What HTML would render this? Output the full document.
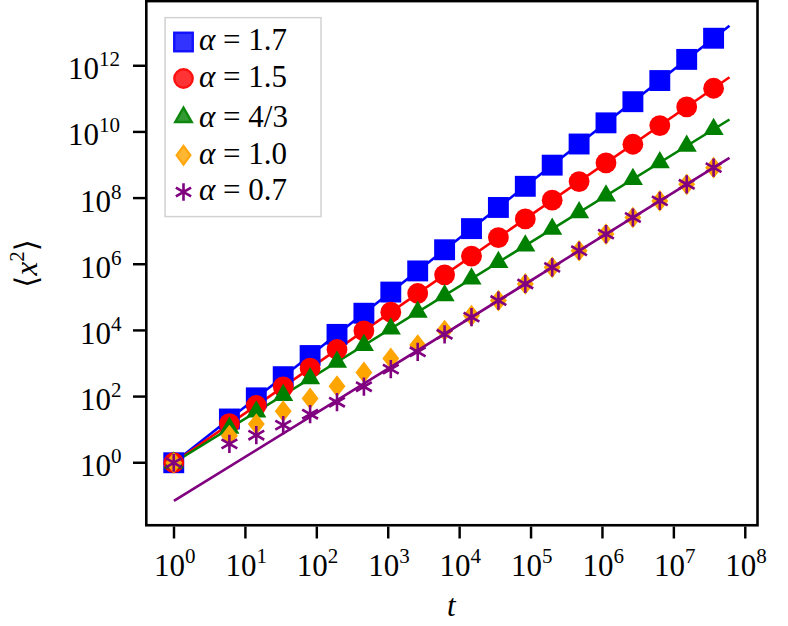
<!DOCTYPE html>
<html lang="en"><head><meta charset="utf-8"><title>chart</title>
<style>html,body{margin:0;padding:0;background:#fff;}body{width:788px;height:626px;overflow:hidden;font-family:"Liberation Serif",serif;}svg{display:block;}</style>
</head><body>
<svg width="788" height="626" viewBox="0 0 788 626" role="img" aria-label="Log-log plot of mean squared displacement versus time t for several values of alpha">
<title>Mean squared displacement vs t (log-log)</title>
<desc>Series: alpha = 1.7 (blue squares), alpha = 1.5 (red circles), alpha = 4/3 (green triangles), alpha = 1.0 (orange diamonds), alpha = 0.7 (purple asterisks), with power-law guide lines.</desc>
<rect width="788" height="626" fill="#fff"/>
<line x1="173.75" y1="462.75" x2="729.50" y2="25.74" stroke="#0000ff" stroke-width="2.6" stroke-linecap="butt"/>
<line x1="173.75" y1="462.75" x2="729.50" y2="77.22" stroke="#ff0000" stroke-width="2.6" stroke-linecap="butt"/>
<line x1="173.75" y1="462.75" x2="729.50" y2="119.51" stroke="#008000" stroke-width="2.6" stroke-linecap="butt"/>
<rect x="163.30" y="452.30" width="20.9" height="20.9" fill="#0000ff" />
<rect x="218.95" y="408.54" width="20.9" height="20.9" fill="#0000ff" />
<rect x="245.85" y="387.39" width="20.9" height="20.9" fill="#0000ff" />
<rect x="272.75" y="366.23" width="20.9" height="20.9" fill="#0000ff" />
<rect x="299.65" y="345.08" width="20.9" height="20.9" fill="#0000ff" />
<rect x="326.55" y="323.93" width="20.9" height="20.9" fill="#0000ff" />
<rect x="353.45" y="302.78" width="20.9" height="20.9" fill="#0000ff" />
<rect x="380.35" y="281.62" width="20.9" height="20.9" fill="#0000ff" />
<rect x="407.25" y="260.47" width="20.9" height="20.9" fill="#0000ff" />
<rect x="434.15" y="239.32" width="20.9" height="20.9" fill="#0000ff" />
<rect x="461.05" y="218.17" width="20.9" height="20.9" fill="#0000ff" />
<rect x="487.95" y="197.01" width="20.9" height="20.9" fill="#0000ff" />
<rect x="514.85" y="175.86" width="20.9" height="20.9" fill="#0000ff" />
<rect x="541.75" y="154.71" width="20.9" height="20.9" fill="#0000ff" />
<rect x="568.65" y="133.56" width="20.9" height="20.9" fill="#0000ff" />
<rect x="595.55" y="112.40" width="20.9" height="20.9" fill="#0000ff" />
<rect x="622.45" y="91.25" width="20.9" height="20.9" fill="#0000ff" />
<rect x="649.35" y="70.10" width="20.9" height="20.9" fill="#0000ff" />
<rect x="676.25" y="48.94" width="20.9" height="20.9" fill="#0000ff" />
<rect x="703.15" y="27.79" width="20.9" height="20.9" fill="#0000ff" />
<circle cx="173.75" cy="462.75" r="10.4" fill="#ff0000" />
<circle cx="229.40" cy="423.65" r="10.4" fill="#ff0000" />
<circle cx="256.30" cy="405.48" r="10.4" fill="#ff0000" />
<circle cx="283.20" cy="386.82" r="10.4" fill="#ff0000" />
<circle cx="310.10" cy="368.16" r="10.4" fill="#ff0000" />
<circle cx="337.00" cy="349.50" r="10.4" fill="#ff0000" />
<circle cx="363.90" cy="330.84" r="10.4" fill="#ff0000" />
<circle cx="390.80" cy="312.18" r="10.4" fill="#ff0000" />
<circle cx="417.70" cy="293.52" r="10.4" fill="#ff0000" />
<circle cx="444.60" cy="274.86" r="10.4" fill="#ff0000" />
<circle cx="471.50" cy="256.20" r="10.4" fill="#ff0000" />
<circle cx="498.40" cy="237.54" r="10.4" fill="#ff0000" />
<circle cx="525.30" cy="218.88" r="10.4" fill="#ff0000" />
<circle cx="552.20" cy="200.22" r="10.4" fill="#ff0000" />
<circle cx="579.10" cy="181.56" r="10.4" fill="#ff0000" />
<circle cx="606.00" cy="162.90" r="10.4" fill="#ff0000" />
<circle cx="632.90" cy="144.24" r="10.4" fill="#ff0000" />
<circle cx="659.80" cy="125.58" r="10.4" fill="#ff0000" />
<circle cx="686.70" cy="106.92" r="10.4" fill="#ff0000" />
<circle cx="713.60" cy="88.25" r="10.4" fill="#ff0000" />
<polygon points="173.75,451.25 163.70,468.50 183.80,468.50" fill="#008000" />
<polygon points="229.40,416.38 219.35,433.63 239.45,433.63" fill="#008000" />
<polygon points="256.30,400.27 246.25,417.52 266.35,417.52" fill="#008000" />
<polygon points="283.20,383.65 273.15,400.90 293.25,400.90" fill="#008000" />
<polygon points="310.10,367.04 300.05,384.29 320.15,384.29" fill="#008000" />
<polygon points="337.00,350.42 326.95,367.67 347.05,367.67" fill="#008000" />
<polygon points="363.90,333.81 353.85,351.06 373.95,351.06" fill="#008000" />
<polygon points="390.80,317.20 380.75,334.45 400.85,334.45" fill="#008000" />
<polygon points="417.70,300.58 407.65,317.83 427.75,317.83" fill="#008000" />
<polygon points="444.60,283.97 434.55,301.22 454.65,301.22" fill="#008000" />
<polygon points="471.50,267.36 461.45,284.61 481.55,284.61" fill="#008000" />
<polygon points="498.40,250.74 488.35,267.99 508.45,267.99" fill="#008000" />
<polygon points="525.30,234.13 515.25,251.38 535.35,251.38" fill="#008000" />
<polygon points="552.20,217.51 542.15,234.76 562.25,234.76" fill="#008000" />
<polygon points="579.10,200.90 569.05,218.15 589.15,218.15" fill="#008000" />
<polygon points="606.00,184.29 595.95,201.54 616.05,201.54" fill="#008000" />
<polygon points="632.90,167.67 622.85,184.92 642.95,184.92" fill="#008000" />
<polygon points="659.80,151.06 649.75,168.31 669.85,168.31" fill="#008000" />
<polygon points="686.70,134.45 676.65,151.70 696.75,151.70" fill="#008000" />
<polygon points="713.60,117.83 703.55,135.08 723.65,135.08" fill="#008000" />
<polygon points="173.75,451.90 182.20,462.75 173.75,473.60 165.30,462.75" fill="#ffa500" />
<polygon points="229.40,424.85 237.85,435.70 229.40,446.55 220.95,435.70" fill="#ffa500" />
<polygon points="256.30,413.25 264.75,424.10 256.30,434.95 247.85,424.10" fill="#ffa500" />
<polygon points="283.20,400.35 291.65,411.20 283.20,422.05 274.75,411.20" fill="#ffa500" />
<polygon points="310.10,387.55 318.55,398.40 310.10,409.25 301.65,398.40" fill="#ffa500" />
<polygon points="337.00,375.35 345.45,386.20 337.00,397.05 328.55,386.20" fill="#ffa500" />
<polygon points="363.90,361.55 372.35,372.40 363.90,383.25 355.45,372.40" fill="#ffa500" />
<polygon points="390.80,347.55 399.25,358.40 390.80,369.25 382.35,358.40" fill="#ffa500" />
<polygon points="417.70,334.15 426.15,345.00 417.70,355.85 409.25,345.00" fill="#ffa500" />
<polygon points="444.60,319.65 453.05,330.50 444.60,341.35 436.15,330.50" fill="#ffa500" />
<polygon points="471.50,304.75 479.95,315.60 471.50,326.45 463.05,315.60" fill="#ffa500" />
<polygon points="498.40,289.70 506.85,300.55 498.40,311.40 489.95,300.55" fill="#ffa500" />
<polygon points="525.30,273.10 533.75,283.95 525.30,294.80 516.85,283.95" fill="#ffa500" />
<polygon points="552.20,256.49 560.65,267.34 552.20,278.19 543.75,267.34" fill="#ffa500" />
<polygon points="579.10,239.88 587.55,250.73 579.10,261.58 570.65,250.73" fill="#ffa500" />
<polygon points="606.00,223.27 614.45,234.12 606.00,244.97 597.55,234.12" fill="#ffa500" />
<polygon points="632.90,206.66 641.35,217.51 632.90,228.36 624.45,217.51" fill="#ffa500" />
<polygon points="659.80,190.06 668.25,200.91 659.80,211.76 651.35,200.91" fill="#ffa500" />
<polygon points="686.70,173.45 695.15,184.30 686.70,195.15 678.25,184.30" fill="#ffa500" />
<polygon points="713.60,156.84 722.05,167.69 713.60,178.54 705.15,167.69" fill="#ffa500" />
<line x1="173.90" y1="500.90" x2="729.50" y2="157.87" stroke="#800080" stroke-width="2.6" stroke-linecap="butt"/>
<path d="M173.75,453.65L173.75,471.85M165.87,458.20L181.63,467.30M181.63,458.20L165.87,467.30" stroke="#800080" stroke-width="2.6" fill="none"/>
<path d="M229.40,434.80L229.40,453.00M221.52,439.35L237.28,448.45M237.28,439.35L221.52,448.45" stroke="#800080" stroke-width="2.6" fill="none"/>
<path d="M256.30,426.10L256.30,444.30M248.42,430.65L264.18,439.75M264.18,430.65L248.42,439.75" stroke="#800080" stroke-width="2.6" fill="none"/>
<path d="M283.20,416.00L283.20,434.20M275.32,420.55L291.08,429.65M291.08,420.55L275.32,429.65" stroke="#800080" stroke-width="2.6" fill="none"/>
<path d="M310.10,405.10L310.10,423.30M302.22,409.65L317.98,418.75M317.98,409.65L302.22,418.75" stroke="#800080" stroke-width="2.6" fill="none"/>
<path d="M337.00,393.10L337.00,411.30M329.12,397.65L344.88,406.75M344.88,397.65L329.12,406.75" stroke="#800080" stroke-width="2.6" fill="none"/>
<path d="M363.90,377.60L363.90,395.80M356.02,382.15L371.78,391.25M371.78,382.15L356.02,391.25" stroke="#800080" stroke-width="2.6" fill="none"/>
<path d="M390.80,360.00L390.80,378.20M382.92,364.55L398.68,373.65M398.68,364.55L382.92,373.65" stroke="#800080" stroke-width="2.6" fill="none"/>
<path d="M417.70,342.70L417.70,360.90M409.82,347.25L425.58,356.35M425.58,347.25L409.82,356.35" stroke="#800080" stroke-width="2.6" fill="none"/>
<path d="M444.60,325.20L444.60,343.40M436.72,329.75L452.48,338.85M452.48,329.75L436.72,338.85" stroke="#800080" stroke-width="2.6" fill="none"/>
<path d="M471.50,308.06L471.50,326.26M463.62,312.61L479.38,321.71M479.38,312.61L463.62,321.71" stroke="#800080" stroke-width="2.6" fill="none"/>
<path d="M498.40,291.45L498.40,309.65M490.52,296.00L506.28,305.10M506.28,296.00L490.52,305.10" stroke="#800080" stroke-width="2.6" fill="none"/>
<path d="M525.30,274.85L525.30,293.05M517.42,279.40L533.18,288.50M533.18,279.40L517.42,288.50" stroke="#800080" stroke-width="2.6" fill="none"/>
<path d="M552.20,258.24L552.20,276.44M544.32,262.79L560.08,271.89M560.08,262.79L544.32,271.89" stroke="#800080" stroke-width="2.6" fill="none"/>
<path d="M579.10,241.63L579.10,259.83M571.22,246.18L586.98,255.28M586.98,246.18L571.22,255.28" stroke="#800080" stroke-width="2.6" fill="none"/>
<path d="M606.00,225.02L606.00,243.22M598.12,229.57L613.88,238.67M613.88,229.57L598.12,238.67" stroke="#800080" stroke-width="2.6" fill="none"/>
<path d="M632.90,208.41L632.90,226.61M625.02,212.96L640.78,222.06M640.78,212.96L625.02,222.06" stroke="#800080" stroke-width="2.6" fill="none"/>
<path d="M659.80,191.81L659.80,210.01M651.92,196.36L667.68,205.46M667.68,196.36L651.92,205.46" stroke="#800080" stroke-width="2.6" fill="none"/>
<path d="M686.70,175.20L686.70,193.40M678.82,179.75L694.58,188.85M694.58,179.75L678.82,188.85" stroke="#800080" stroke-width="2.6" fill="none"/>
<path d="M713.60,158.59L713.60,176.79M705.72,163.14L721.48,172.24M721.48,163.14L705.72,172.24" stroke="#800080" stroke-width="2.6" fill="none"/>
<rect x="146.3" y="1.1" width="611.2" height="524.15" fill="none" stroke="#000" stroke-width="2.6"/>
<line x1="174.00" y1="526.55" x2="174.00" y2="538.5" stroke="#000" stroke-width="2.45"/>
<line x1="245.41" y1="526.55" x2="245.41" y2="538.5" stroke="#000" stroke-width="2.45"/>
<line x1="316.82" y1="526.55" x2="316.82" y2="538.5" stroke="#000" stroke-width="2.45"/>
<line x1="388.23" y1="526.55" x2="388.23" y2="538.5" stroke="#000" stroke-width="2.45"/>
<line x1="459.64" y1="526.55" x2="459.64" y2="538.5" stroke="#000" stroke-width="2.45"/>
<line x1="531.05" y1="526.55" x2="531.05" y2="538.5" stroke="#000" stroke-width="2.45"/>
<line x1="602.46" y1="526.55" x2="602.46" y2="538.5" stroke="#000" stroke-width="2.45"/>
<line x1="673.87" y1="526.55" x2="673.87" y2="538.5" stroke="#000" stroke-width="2.45"/>
<line x1="745.28" y1="526.55" x2="745.28" y2="538.5" stroke="#000" stroke-width="2.45"/>
<line x1="133.0" y1="462.75" x2="145.00" y2="462.75" stroke="#000" stroke-width="2.45"/>
<line x1="133.0" y1="396.58" x2="145.00" y2="396.58" stroke="#000" stroke-width="2.45"/>
<line x1="133.0" y1="330.42" x2="145.00" y2="330.42" stroke="#000" stroke-width="2.45"/>
<line x1="133.0" y1="264.25" x2="145.00" y2="264.25" stroke="#000" stroke-width="2.45"/>
<line x1="133.0" y1="198.09" x2="145.00" y2="198.09" stroke="#000" stroke-width="2.45"/>
<line x1="133.0" y1="131.92" x2="145.00" y2="131.92" stroke="#000" stroke-width="2.45"/>
<line x1="133.0" y1="65.75" x2="145.00" y2="65.75" stroke="#000" stroke-width="2.45"/>
<rect x="165.1" y="17.65" width="155.9" height="198.95" fill="#fff" fill-opacity="0.8" stroke="#d2d2d2" stroke-width="1.5"/>
<rect x="174.25" y="32.75" width="18.5" height="18.5" fill="#3333ff" stroke="#1111ff" stroke-width="2.4"/>
<circle cx="183.50" cy="78.50" r="9.200000000000001" fill="#ff3333" stroke="#ff1111" stroke-width="2.4"/>
<polygon points="183.50,107.70 175.27,121.95 191.73,121.95" fill="#339933" stroke="#0d870d" stroke-width="2.4" stroke-linejoin="miter"/>
<polygon points="183.50,146.05 190.29,155.30 183.50,164.55 176.71,155.30" fill="#ffb733" stroke="#ffa811" stroke-width="2.4" stroke-linejoin="miter"/>
<path d="M183.50,183.20L183.50,200.80M175.88,187.60L191.12,196.40M191.12,187.60L175.88,196.40" stroke="#800080" stroke-width="2.6" fill="none"/>
<g font-family="'Liberation Serif', 'DejaVu Serif', serif" font-size="31" fill="#000" stroke="none">
<text x="154.0" y="575.8">10<tspan font-size="21" dy="-13">0</tspan></text>
<text x="225.4" y="575.8">10<tspan font-size="21" dy="-13">1</tspan></text>
<text x="296.8" y="575.8">10<tspan font-size="21" dy="-13">2</tspan></text>
<text x="368.2" y="575.8">10<tspan font-size="21" dy="-13">3</tspan></text>
<text x="439.6" y="575.8">10<tspan font-size="21" dy="-13">4</tspan></text>
<text x="511.0" y="575.8">10<tspan font-size="21" dy="-13">5</tspan></text>
<text x="582.5" y="575.8">10<tspan font-size="21" dy="-13">6</tspan></text>
<text x="653.9" y="575.8">10<tspan font-size="21" dy="-13">7</tspan></text>
<text x="725.3" y="575.8">10<tspan font-size="21" dy="-13">8</tspan></text>
<text x="80" y="476.2">10<tspan font-size="21" dy="-13">0</tspan></text>
<text x="80" y="410.1">10<tspan font-size="21" dy="-13">2</tspan></text>
<text x="80" y="343.9">10<tspan font-size="21" dy="-13">4</tspan></text>
<text x="80" y="277.8">10<tspan font-size="21" dy="-13">6</tspan></text>
<text x="80" y="211.6">10<tspan font-size="21" dy="-13">8</tspan></text>
<text x="68" y="145.4">10<tspan font-size="21" dy="-13">10</tspan></text>
<text x="68" y="79.3">10<tspan font-size="21" dy="-13">12</tspan></text>
<text x="447" y="616" font-style="italic">t</text>
<text transform="translate(36.6,287.7) rotate(-90)">⟨<tspan font-style="italic">x</tspan><tspan font-size="21" dy="-13">2</tspan><tspan dy="13">⟩</tspan></text>
<text x="199" y="50.3"><tspan font-style="italic">α</tspan> = 1.7</text>
<text x="199" y="87.0"><tspan font-style="italic">α</tspan> = 1.5</text>
<text x="199" y="127.0"><tspan font-style="italic">α</tspan> = 4/3</text>
<text x="199" y="163.8"><tspan font-style="italic">α</tspan> = 1.0</text>
<text x="199" y="200.0"><tspan font-style="italic">α</tspan> = 0.7</text>
</g>
</svg>
</body></html>
